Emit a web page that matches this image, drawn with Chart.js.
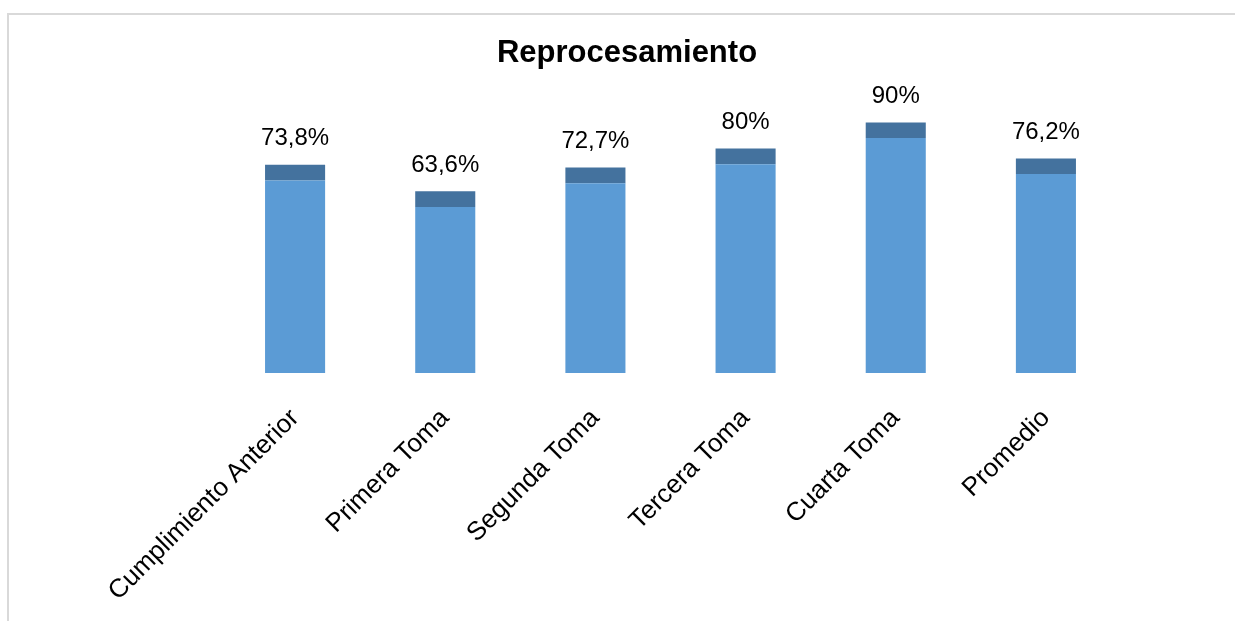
<!DOCTYPE html>
<html>
<head>
<meta charset="utf-8">
<script src="https://cdn.jsdelivr.net/npm/chart.js@4"></script>
<style>
  html, body { margin: 0; padding: 0; background: #fff; }
  canvas { display: block; }
</style>
</head>
<body>
<canvas id="reprocChart" width="1235" height="621"></canvas>
<script>
const categories = ["Cumplimiento Anterior", "Primera Toma", "Segunda Toma", "Tercera Toma", "Cuarta Toma", "Promedio"];
const percentages = [73.8, 63.6, 72.7, 80, 90, 76.2];
const capHeights = [6, 6, 6, 6, 6, 6];
const valueLabels = ["73,8%", "63,6%", "72,7%", "80%", "90%", "76,2%"];
const chartTitle = "Reprocesamiento";

const FONT = "'Liberation Sans', Arial, sans-serif";

// light grey frame (top and left edges show) plus the title
const framePlugin = {
  id: "frame",
  beforeDraw: (chart) => {
    const ctx = chart.ctx;
    ctx.save();
    ctx.fillStyle = "#fff";
    ctx.fillRect(0, 0, chart.width, chart.height);
    ctx.strokeStyle = "#d9d9d9";
    ctx.lineWidth = 2;
    ctx.beginPath();
    ctx.moveTo(8, chart.height);
    ctx.lineTo(8, 14);
    ctx.lineTo(chart.width, 14);
    ctx.stroke();

    ctx.font = "bold 31px " + FONT;
    ctx.fillStyle = "#000";
    ctx.textAlign = "center";
    ctx.textBaseline = "middle";
    ctx.fillText(chartTitle, 627, 53);
    ctx.restore();
  },
};

// value text above each bar
const valueLabelPlugin = {
  id: "valueLabels",
  afterDatasetsDraw: (chart) => {
    const ctx = chart.ctx;
    const caps = chart.getDatasetMeta(1).data;
    ctx.save();
    ctx.font = "24px " + FONT;
    ctx.fillStyle = "#000";
    ctx.textAlign = "center";
    ctx.textBaseline = "middle";
    caps.forEach((bar, i) => {
      ctx.fillText(valueLabels[i], bar.x, bar.y - 26);
    });
    ctx.restore();
  },
};

new Chart(document.getElementById("reprocChart"), {
  type: "bar",
  data: {
    labels: categories,
    datasets: [
      {
        label: chartTitle,
        data: percentages,
        backgroundColor: "#5b9bd5",
        stack: "s",
      },
      {
        label: "cap",
        data: capHeights,
        backgroundColor: "#44729e",
        stack: "s",
      },
    ],
  },
  options: {
    responsive: false,
    animation: false,
    datasets: {
      bar: { categoryPercentage: 1, barPercentage: 0.4 },
    },
    layout: {
      padding: { left: 220, right: 114, top: 112, bottom: 0 },
    },
    plugins: {
      legend: { display: false },
      tooltip: { enabled: false },
      title: { display: false },
    },
    scales: {
      x: {
        stacked: true,
        grid: { display: false, drawTicks: false },
        border: { display: false },
        ticks: {
          color: "#000",
          font: { family: FONT, size: 26 },
          maxRotation: 45,
          minRotation: 45,
          padding: 30,
        },
        afterFit: (scale) => {
          scale.paddingLeft = 0;
          scale.paddingRight = 0;
          scale.height = 248;
        },
      },
      y: {
        stacked: true,
        display: false,
        min: 0,
        max: 100,
      },
    },
  },
  plugins: [framePlugin, valueLabelPlugin],
});
</script>
</body>
</html>
